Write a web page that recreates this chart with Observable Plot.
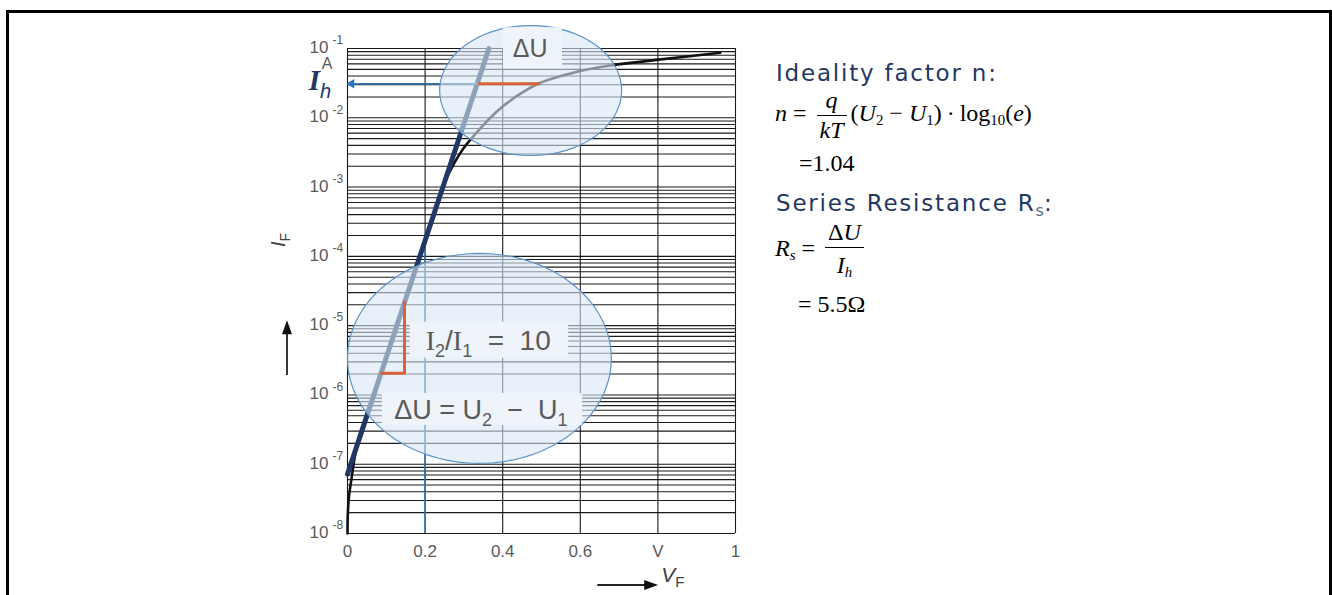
<!DOCTYPE html>
<html><head><meta charset="utf-8">
<script src="https://cdn.jsdelivr.net/npm/d3@7"></script>
<script src="https://cdn.jsdelivr.net/npm/@observablehq/plot@0.6"></script>
<style>
body{margin:0;background:#fff;}
#wrap{position:relative;width:1332px;height:595px;overflow:hidden;background:#fff;}
#chart{position:absolute;left:0;top:0;}
#frame{position:absolute;left:6px;top:10px;width:1320px;height:620px;border:3px solid #000;border-bottom:none;}
.hdr{position:absolute;font-family:"DejaVu Sans",Verdana,sans-serif;font-size:23px;letter-spacing:1.8px;color:#1f3864;white-space:nowrap;line-height:1;}
.eq{position:absolute;font-family:"Liberation Serif","Times New Roman",serif;font-size:24px;color:#000;white-space:nowrap;line-height:1;}
.eq i{font-style:italic;}
.frac{display:inline-block;vertical-align:middle;text-align:center;margin:0 4px;}
.frac>span{display:block;line-height:1.2;padding:0 3px;}
.frac .num{border-bottom:1px solid #000;}
.eq sub{font-size:62%;vertical-align:-0.3em;}
.hdr sub{font-size:70%;vertical-align:-0.3em;color:#5a6e8a;letter-spacing:0;}
.sp{display:inline-block;width:5px;}
</style></head><body>
<div id="wrap">
  <div id="chart"></div>
  <div id="frame"></div>
  <div class="hdr" style="left:776px;top:62px">Ideality factor n:</div>
  <div class="eq" style="left:775px;top:86px"><i>n</i> = <span class="frac"><span class="num"><i>q</i></span><span class="den"><i>kT</i></span></span>(<i>U</i><sub>2</sub> − <i>U</i><sub>1</sub>)<span class="sp"></span>·<span class="sp"></span>log<sub>10</sub>(<i>e</i>)</div>
  <div class="eq" style="left:799px;top:151px">=1.04</div>
  <div class="hdr" style="left:776px;top:192px">Series Resistance R<sub>s</sub>:</div>
  <div class="eq" style="left:775px;top:218px"><i>R</i><sub><i>s</i></sub> = <span class="frac"><span class="num">Δ<i>U</i></span><span class="den" style="padding-top:3px"><i>I<sub>h</sub></i></span></span></div>
  <div class="eq" style="left:798px;top:292px">= 5.5Ω</div>
</div>
<script>
// ---------- data ----------
const curveV = [0, 0.001, 0.004, 0.010, 0.018, 0.030, 0.050, 0.100, 0.150, 0.200, 0.250, 0.274, 0.300, 0.334, 0.365, 0.403, 0.450, 0.497, 0.550, 0.600, 0.678, 0.802, 0.961];
const curveI = [1e-8, 2e-8, 3.5e-8, 6e-8, 1.2e-7, 2.5e-7, 5.2e-7, 3.6e-6, 2.5e-5, 1.72e-4, 1.15e-3, 2.17e-3, 3.7e-3, 6.2e-3, 9.6e-3, 1.5e-2, 2.3e-2, 3.2e-2, 4.0e-2, 4.75e-2, 5.7e-2, 6.9e-2, 8.7e-2];
const tangentV = [0, 0.3645];
const tangentI = [7.2e-8, 0.1];
const Ih = 0.031;               // current at which ΔU is measured
const deltaU_V = [0.338, 0.497]; // tangent and curve voltage at Ih
const stepV = [0.088, 0.147, 0.147];
const stepI = [2.06e-6, 2.06e-6, 2.2e-5];
const markerV = 0.2, markerI = 1.72e-4;
const xTicks = [0, 0.2, 0.4, 0.6, 0.8, 1];
const xTickLabels = ["0", "0.2", "0.4", "0.6", "V", "1"];
const yExps = [-8, -7, -6, -5, -4, -3, -2, -1];
// annotation ellipses: centre (V, log10 I), radii (V, decades)
const ellipses = [
  {id: "up", cx: 0.472, cy: -1.606, rx: 0.2345, ry: 0.938},
  {id: "low", cx: 0.340, cy: -5.473, rx: 0.340, ry: 1.515}
];
// light label boxes (V range, log10 I range)
const boxes = [
  {x1: 0.402, x2: 0.554, l1: -1.29, l2: -0.70},
  {x1: 0.162, x2: 0.570, l1: -5.47, l2: -4.95},
  {x1: 0.090, x2: 0.606, l1: -6.44, l2: -5.98}
];

// ---------- derived tables ----------
const curve = curveV.map((v, i) => ({v, i: curveI[i]}));
const tangent = tangentV.map((v, i) => ({v, i: tangentI[i]}));
const step = stepV.map((v, i) => ({v, i: stepI[i]}));
const gridY = [];
for (let e = -8; e <= -2; e++) for (let k = 1; k <= 9; k++) gridY.push(k * 10 ** e);
gridY.push(1e-1);
const ellPts = ellipses.flatMap(e => d3.range(0, 363, 3).map(a => ({
  id: e.id,
  v: e.cx + e.rx * Math.cos(a * Math.PI / 180),
  i: 10 ** (e.cy + e.ry * Math.sin(a * Math.PI / 180))
})));
const boxRows = boxes.map(b => ({x1: b.x1, x2: b.x2, y1: 10 ** b.l1, y2: 10 ** b.l2}));
const yTickRows = yExps.map(e => ({v: 10 ** e, exp: String(e)}));

const navy = "#1f3864", blue = "#2e75b6", red = "#d9623b", gray = "#5a5a5a";

const plot = Plot.plot({
  width: 1332, height: 595,
  marginLeft: 347, marginRight: 597, marginTop: 48, marginBottom: 62,
  x: {domain: [0, 1], axis: null},
  y: {type: "log", domain: [1e-8, 1e-1], axis: null},
  style: {background: "transparent", fontFamily: "'Liberation Sans', Arial, sans-serif", overflow: "visible"},
  marks: [
    Plot.ruleY(gridY, {stroke: "#1a1a1a", strokeWidth: 1.1}),
    Plot.ruleX(xTicks, {stroke: "#1a1a1a", strokeWidth: 1.1}),
    Plot.ruleX([markerV], {y1: 1e-8, y2: markerI, stroke: blue, strokeWidth: 1.6}),
    Plot.line(curve, {x: "v", y: "i", stroke: "#111", strokeWidth: 2.6, curve: "catmull-rom"}),
    Plot.line(tangent, {x: "v", y: "i", stroke: navy, strokeWidth: 5}),
    Plot.ruleY([Ih], {x1: 0.004, x2: deltaU_V[0], stroke: blue, strokeWidth: 1.6}),
    Plot.dot([Ih], {x: 0, y: d => d, symbol: "triangle2", rotate: -90, r: 4.5, fill: blue, stroke: "none", dx: 4}),
    Plot.line(ellPts, {x: "v", y: "i", z: "id", fill: "#d8e7f5", fillOpacity: 0.6, stroke: "#5b93c9", strokeWidth: 1.2}),
    Plot.ruleY([Ih], {x1: deltaU_V[0], x2: deltaU_V[1], stroke: red, strokeWidth: 3}),
    Plot.line(step, {x: "v", y: "i", stroke: red, strokeWidth: 3}),
    Plot.rect(boxRows, {x1: "x1", x2: "x2", y1: "y1", y2: "y2", fill: "#eef4fa"}),
    Plot.text(xTicks, {x: d => d, y: 1e-8, text: (d, i) => xTickLabels[i], dy: 18, fill: gray, fontSize: 17}),
    Plot.text(yTickRows, {x: 0, y: "v", text: () => "10", dx: -19, dy: -1, textAnchor: "end", fill: gray, fontSize: 17}),
    Plot.text(yTickRows, {x: 0, y: "v", text: "exp", dx: -15, dy: -8, textAnchor: "start", fill: gray, fontSize: 12})
  ]
});
document.getElementById("chart").appendChild(plot);

// ---------- rich annotations placed through the scales ----------
const sx = plot.scale("x"), sy = plot.scale("y");
const X = v => sx.apply(v), Y = i => sy.apply(i);
const svg = d3.select(plot);
const g = svg.append("g");
const SERIF = "'Liberation Serif', 'Times New Roman', serif";

// unit "A"
g.append("text").attr("x", X(0) - 20).attr("y", Y(1e-1) + 21).attr("text-anchor", "middle")
  .attr("font-size", 16).attr("fill", gray).text("A");

// I_h label
g.append("text").attr("x", X(0) - 27).attr("y", Y(Ih) + 7).attr("fill", navy)
  .html(`<tspan font-family="${SERIF}" font-weight="bold" font-style="italic" font-size="29">I</tspan><tspan font-style="italic" font-size="20" dy="8">h</tspan>`);

// ΔU (upper)
g.append("text").attr("x", X(0.472)).attr("y", Y(10 ** -1.0) + 9).attr("text-anchor", "middle")
  .attr("font-size", 25).attr("fill", gray).text("ΔU");

// I2/I1 = 10
g.append("text").attr("x", X(0.364)).attr("y", Y(10 ** -5.21) + 10).attr("text-anchor", "middle")
  .attr("font-size", 28).attr("fill", gray).attr("xml:space", "preserve")
  .html(`<tspan font-family="${SERIF}">I</tspan><tspan font-size="18" dy="7">2</tspan><tspan dy="-7">/</tspan><tspan font-family="${SERIF}">I</tspan><tspan font-size="18" dy="7">1</tspan><tspan dy="-7">  =  10</tspan>`);

// ΔU = U2 − U1
g.append("text").attr("x", X(0.345)).attr("y", Y(10 ** -6.21) + 10).attr("text-anchor", "middle")
  .attr("font-size", 27).attr("fill", gray).attr("xml:space", "preserve")
  .html(`ΔU = U<tspan font-size="18" dy="7">2</tspan><tspan dy="-7">  −  U</tspan><tspan font-size="18" dy="7">1</tspan>`);

// axis titles
g.append("text").attr("transform", `translate(${X(0) - 62},${Y(10 ** -3.77)}) rotate(-90)`)
  .attr("text-anchor", "middle").attr("fill", "#404040").attr("font-size", 20)
  .html(`<tspan font-style="italic">I</tspan><tspan font-size="14" dy="5">F</tspan>`);
g.append("text").attr("x", X(0.84)).attr("y", Y(1e-8) + 49).attr("fill", "#404040").attr("font-size", 21)
  .html(`<tspan font-style="italic">V</tspan><tspan font-size="15" dy="5">F</tspan>`);

// axis arrows
const ax = X(0) - 60, ayTop = Y(10 ** -4.93), ayBot = Y(10 ** -5.72);
g.append("line").attr("x1", ax).attr("x2", ax).attr("y1", ayBot).attr("y2", ayTop + 12).attr("stroke", "#222").attr("stroke-width", 1.8);
g.append("path").attr("d", `M${ax},${ayTop} L${ax - 5},${ayTop + 14} L${ax + 5},${ayTop + 14} Z`).attr("fill", "#111");
const hy = Y(1e-8) + 52, hx0 = X(0.645), hx1 = X(0.802);
g.append("line").attr("x1", hx0).attr("x2", hx1 - 12).attr("y1", hy).attr("y2", hy).attr("stroke", "#222").attr("stroke-width", 1.8);
g.append("path").attr("d", `M${hx1},${hy} L${hx1 - 14},${hy - 5} L${hx1 - 14},${hy + 5} Z`).attr("fill", "#111");
</script>
</body></html>
